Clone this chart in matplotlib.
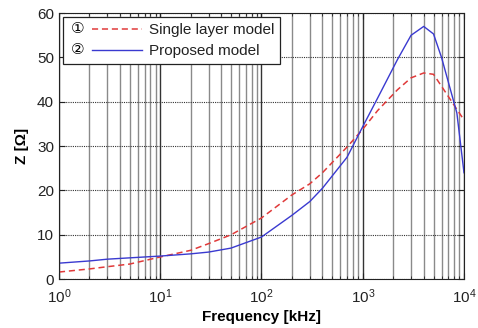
import matplotlib
matplotlib.use('Agg')
import matplotlib.pyplot as plt
from matplotlib.legend_handler import HandlerLine2D
from matplotlib.text import Text
from matplotlib.ticker import LogLocator, NullFormatter

plt.rcParams['font.family'] = ['Liberation Sans', 'DejaVu Sans']
plt.rcParams['mathtext.fontset'] = 'custom'
plt.rcParams['mathtext.rm'] = 'Liberation Sans'
plt.rcParams['mathtext.it'] = 'Liberation Sans'

# data
freq = [1, 2, 3, 5, 10, 20, 30, 50, 100, 200, 300, 400, 700, 1000, 1400,
        2200, 3000, 4000, 5000, 6000, 8500, 10000]
z_single = [1.6, 2.3, 2.8, 3.4, 5.0, 6.5, 8.0, 10.0, 13.8, 19.0, 21.5, 24.0, 29.8, 33.8, 38.0,
            42.7, 45.4, 46.5, 46.2, 43.5, 38.3, 35.9]
z_proposed = [3.6, 4.1, 4.5, 4.8, 5.2, 5.7, 6.1, 7.0, 9.5, 14.4, 17.5, 20.5, 27.5, 34.4, 40.8,
              49.5, 55.0, 57.0, 55.3, 50.0, 37.5, 24.0]
labels = ['Single layer model', 'Proposed model']
numbers = ['\u2460', '\u2461']


# legend handler that puts a circled number in front of the line
class NumberedLine(HandlerLine2D):
    def __init__(self, num, **kw):
        super().__init__(**kw)
        self.num = num

    def create_artists(self, legend, orig_handle, xdescent, ydescent,
                       width, height, fontsize, trans):
        off = fontsize * 1.5
        arts = super().create_artists(legend, orig_handle, xdescent - off, ydescent,
                                      width - off, height, fontsize, trans)
        t = Text(-xdescent + 1, -ydescent + height / 2, self.num, fontsize=fontsize,
                 va='center', ha='left', family=['DejaVu Sans'])
        t.set_transform(trans)
        return arts + [t]


fig = plt.figure(figsize=(4.78, 3.28), dpi=100)
ax = fig.add_axes([0.1234, 0.149, 0.8473, 0.811])

l1, = ax.plot(freq, z_single, '--', color='#e03a3a', lw=1.1, dashes=(4, 2.5))
l2, = ax.plot(freq, z_proposed, '-', color='#3a3ad0', lw=1.0)

ax.set_xscale('log')
ax.set_xlim(1, 1e4)
ax.set_ylim(0, 60)
ax.set_yticks([0, 10, 20, 30, 40, 50, 60])
ax.xaxis.set_minor_locator(LogLocator(base=10, subs=range(2, 10)))
ax.xaxis.set_minor_formatter(NullFormatter())

ax.grid(True, which='minor', axis='x', color='#8a8a8a', lw=1.0, ls='-')
ax.grid(True, which='major', axis='x', color='#333333', lw=1.0, ls='-')
ax.grid(True, which='major', axis='y', color='#333333', lw=0.8, ls=(0, (1, 1)))
ax.tick_params(which='both', direction='in', top=True, right=True, labelsize=11, colors='#222222')
ax.tick_params(which='major', length=4)
ax.tick_params(which='minor', length=2)
ax.tick_params(axis='x', pad=6)

ax.set_xlabel('Frequency [kHz]', fontsize=11, fontweight='bold', labelpad=3)
ax.set_ylabel('Z [\u03a9]', fontsize=11, fontweight='bold', labelpad=6)

leg = ax.legend([l1, l2], labels, loc='upper left', bbox_to_anchor=(0.01, 0.985),
                borderaxespad=0, fontsize=11, handlelength=4.8, handletextpad=0.4,
                labelspacing=0.45, borderpad=0.4, fancybox=False, framealpha=1,
                edgecolor='#222222',
                handler_map={l1: NumberedLine(numbers[0]), l2: NumberedLine(numbers[1])})
leg.get_frame().set_linewidth(0.9)
for t in leg.get_texts():
    t.set_color('#222222')

for s in ax.spines.values():
    s.set_color('#222222')

fig.savefig('out.png', dpi=100)
